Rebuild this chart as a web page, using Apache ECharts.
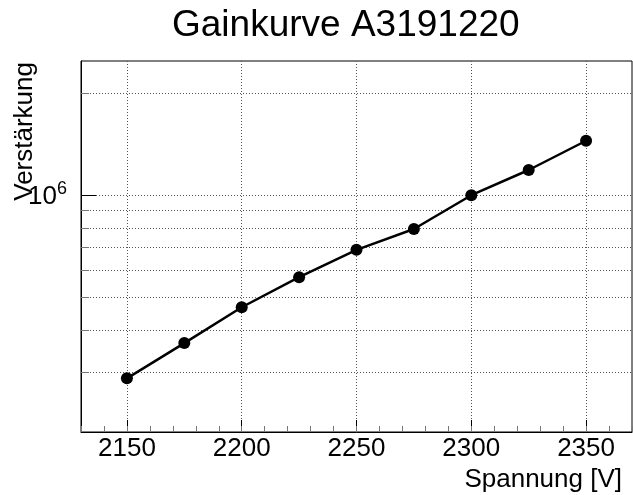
<!DOCTYPE html>
<html>
<head>
<meta charset="utf-8">
<script src="https://cdn.jsdelivr.net/npm/echarts@6/dist/echarts.min.js"></script>
<style>
  html, body { margin: 0; padding: 0; background: #fff; }
  #chart { width: 633px; height: 495px; }
</style>
</head>
<body>
<div id="chart"></div>
<script>
// Gain curve of the photomultiplier A3191220: gain vs. supply voltage
const voltages = [2150, 2175, 2200, 2225, 2250, 2275, 2300, 2325, 2350];
const gains = [2.88e5, 3.66e5, 4.67e5, 5.73e5, 6.90e5, 7.95e5, 1.0e6, 1.187e6, 1.448e6];

// axis ticks
const xMajorTicks = [2150, 2200, 2250, 2300, 2350];
const yMajorTicks = [1e6];
const yMinorTicks = [3e5, 4e5, 5e5, 6e5, 7e5, 8e5, 9e5, 2e6];

const FONT = "'Liberation Sans', Arial, Helvetica, sans-serif";
const gridDots = { show: true, lineStyle: { color: '#555', width: 1, type: [1, 2] } };

const chart = echarts.init(document.getElementById('chart'), null, { renderer: 'canvas' });

chart.setOption({
  backgroundColor: '#fff',
  animation: false,
  title: {
    text: 'Gainkurve A3191220',
    left: 172,
    top: 7,
    padding: 0,
    textStyle: { fontFamily: FONT, fontSize: 37, fontWeight: 'normal', color: '#000' }
  },
  grid: {
    left: 81, right: 1, top: 61, bottom: 63,
    show: true, borderColor: '#000', borderWidth: 1, backgroundColor: 'transparent'
  },
  xAxis: [
    {
      type: 'value', min: 2130, max: 2370, position: 'bottom',
      axisLine: { show: true, lineStyle: { color: '#000', width: 1 } },
      axisTick: { show: true, inside: true, length: 12, customValues: xMajorTicks,
                  lineStyle: { color: '#000', width: 1 } },
      axisLabel: { show: true, customValues: xMajorTicks, margin: 4,
                   formatter: function (v) { return String(v); },
                   fontFamily: FONT, fontSize: 26, color: '#000' },
      splitLine: gridDots
    },
    {
      type: 'value', min: 2130, max: 2370, interval: 10, position: 'bottom',
      axisLine: { show: false },
      axisTick: { show: true, inside: true, length: 6, lineStyle: { color: '#777', width: 1 } },
      axisLabel: { show: false },
      splitLine: { show: false }
    }
  ],
  yAxis: [
    {
      type: 'log', logBase: 10, min: 2e5, max: 2.49e6, position: 'left',
      axisLine: { show: true, lineStyle: { color: '#000', width: 1 } },
      axisTick: { show: true, inside: true, length: 15, customValues: yMajorTicks,
                  lineStyle: { color: '#000', width: 1 } },
      axisLabel: {
        show: true, customValues: yMajorTicks, margin: 14,
        formatter: function () { return '{b|10}{s|6}'; },
        rich: {
          b: { fontFamily: FONT, fontSize: 26, color: '#000', padding: [4, 0, 0, 0] },
          s: { fontFamily: FONT, fontSize: 18, color: '#000', verticalAlign: 'top' }
        }
      },
      splitLine: gridDots
    },
    {
      type: 'log', logBase: 10, min: 2e5, max: 2.49e6, position: 'left',
      axisLine: { show: false },
      axisTick: { show: true, inside: true, length: 8, customValues: yMinorTicks,
                  lineStyle: { color: '#777', width: 1 } },
      axisLabel: { show: false },
      splitLine: gridDots
    }
  ],
  graphic: [
    {
      type: 'text', x: 25, y: 62, rotation: Math.PI / 2,
      style: { text: 'Verstärkung', fontFamily: FONT, fontSize: 26, fill: '#000',
               align: 'right', verticalAlign: 'middle' }
    },
    {
      type: 'text', x: 622, y: 493,
      style: { text: 'Spannung [V]', fontFamily: FONT, fontSize: 26, fill: '#000',
               align: 'right', verticalAlign: 'bottom' }
    }
  ],
  series: [
    {
      name: 'Verstärkung',
      type: 'line',
      xAxisIndex: 0, yAxisIndex: 0,
      data: voltages.map((v, i) => [v, gains[i]]),
      symbol: 'circle', symbolSize: 12,
      lineStyle: { color: '#000', width: 2.5 },
      itemStyle: { color: '#000' },
      z: 5
    }
  ]
});
</script>
</body>
</html>
